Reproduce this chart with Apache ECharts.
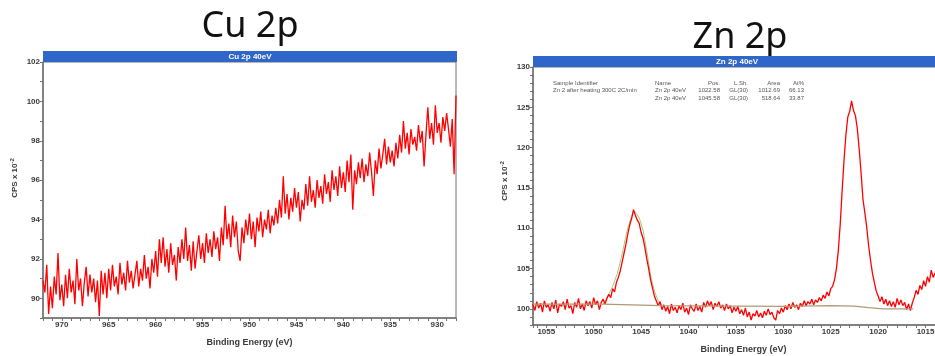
<!DOCTYPE html>
<html>
<head>
<meta charset="utf-8">
<script src="https://cdn.jsdelivr.net/npm/echarts@6/dist/echarts.min.js"></script>
<style>
  html, body { margin: 0; padding: 0; background: #fff; }
  #chart { width: 935px; height: 356px; }
</style>
</head>
<body>
<div id="chart"></div>
<script>
// Cu 2p scan: binding energy from 972 eV down to 928 eV, 0.2 eV per channel
const cuStart = 972.0;
const cuStep = 0.2;
const cuCounts = [
  90.9, 90.3, 91.7, 89.2, 90.6, 89.5, 91.1, 90.2, 92.3, 89.9,
  90.7, 89.6, 91.2, 90.0, 91.5, 90.3, 90.9, 89.7, 92.0, 90.4,
  91.0, 89.6, 90.8, 91.6, 90.1, 91.2, 90.3, 91.0, 89.8, 90.9,
  89.1, 91.4, 90.2, 91.3, 90.0, 91.5, 90.4, 91.7, 90.6, 91.1,
  90.2, 91.8, 90.7, 91.3, 90.4, 91.9, 90.8, 91.4, 90.5, 91.2,
  91.9, 90.6, 91.5, 90.9, 92.2, 91.0, 91.6, 90.5, 92.0, 91.3,
  92.4, 91.1, 93.0, 91.8, 93.1, 91.6, 92.5, 91.3, 92.8, 91.7,
  92.2, 90.9, 92.6, 91.8, 93.0, 92.0, 93.6, 91.9, 92.7, 91.4,
  92.9, 91.5, 92.4, 93.2, 92.0, 92.8, 91.8, 93.3, 92.3, 93.0,
  92.1, 93.4, 92.5, 93.1, 91.9, 93.6, 92.7, 94.7, 93.0, 93.8,
  92.6, 94.2, 93.1, 93.9, 92.4, 91.9, 93.6, 92.8, 94.0, 93.2,
  94.3, 93.0, 93.9, 92.6, 94.1, 93.4, 94.4, 93.1, 94.0, 93.5,
  94.5, 93.3, 94.2, 93.7, 94.6, 93.8, 95.0, 94.1, 96.2, 94.3,
  95.3, 94.0, 95.1, 94.4, 95.6, 94.6, 95.4, 93.9, 95.0, 94.5,
  95.8, 94.7, 96.2, 94.9, 95.5, 94.6, 96.0, 95.1, 95.7, 94.8,
  96.3, 95.3, 95.9, 94.9, 96.5, 95.5, 96.2, 95.2, 96.7, 95.6,
  96.4, 95.4, 97.0, 95.9, 97.3, 94.5, 96.5, 95.8, 96.9, 96.1,
  97.1, 95.9, 96.8, 96.2, 97.4, 96.4, 95.2, 97.0, 96.3, 97.6,
  96.6, 97.3, 98.1, 96.8, 97.7, 96.9, 97.5, 96.7, 97.9, 97.1,
  98.3, 97.4, 99.0, 97.6, 98.4, 97.3, 98.6, 97.8, 98.2, 97.5,
  98.8, 97.9, 98.5, 96.7, 98.3, 99.7, 98.1, 98.9, 97.8, 99.8,
  98.4, 98.9, 97.9, 99.2, 98.5, 99.4, 98.6, 97.7, 99.1, 96.3,
  100.3
];

// Zn 2p scan: 1056.4 eV down to 1012 eV, 0.2 eV per channel
const znStart = 1056.4;
const znStep = 0.2;
const znCounts = [
  100.6, 99.8, 100.9, 100.1, 100.7, 99.6, 101.0, 100.2, 100.5, 99.7,
  100.8, 100.0, 101.1, 99.5, 100.6, 100.3, 100.9, 99.9, 101.2, 100.1,
  100.4, 99.4, 100.8, 100.2, 101.3, 100.0, 100.6, 99.8, 101.0, 100.4,
  100.9, 100.1, 101.4, 100.5, 101.0, 99.9, 100.8, 101.2, 100.6, 101.3,
  101.8, 101.4, 102.5, 102.1, 103.3, 103.9, 104.7, 105.8, 106.9, 108.0,
  109.3, 110.4, 111.2, 112.3, 111.6, 111.0, 110.6, 109.5, 108.8, 107.6,
  106.2, 105.0, 103.6, 102.6, 101.6, 101.0, 100.4, 100.9, 99.9, 100.5,
  99.7, 100.3, 99.4, 100.6, 99.8, 100.2, 99.5, 100.4, 99.9, 100.7,
  99.6, 100.1, 99.3, 100.5, 100.0, 99.7, 100.6, 99.8, 100.3, 99.6,
  100.8, 100.2, 101.0, 100.4, 100.9, 99.9, 100.7, 100.3, 100.9, 100.1,
  100.5, 99.8, 100.6, 100.0, 100.4, 99.5, 100.2, 99.7, 100.3, 99.4,
  99.9, 99.2, 100.1, 99.0, 99.6, 98.6, 99.4, 99.1, 99.8, 99.0,
  99.5, 98.9, 99.7, 99.2, 100.0, 99.3, 99.6, 98.9, 98.6, 99.8,
  99.4, 100.1, 99.6, 100.4, 99.9, 100.6, 100.0, 100.8, 100.2, 100.5,
  99.9, 100.7, 100.3, 101.0, 100.4, 100.9, 100.6, 101.2, 100.5, 101.1,
  100.8, 101.4, 101.0, 101.7, 101.3, 102.1, 101.6, 102.5, 102.8, 103.6,
  105.0, 107.2, 110.5, 114.6, 118.4, 121.6, 123.8, 124.5, 125.8, 124.6,
  124.0, 122.4, 119.8, 116.9, 113.6, 111.9, 110.1, 107.8, 106.0, 104.4,
  103.3, 102.2, 101.6, 100.9, 101.5, 100.6, 101.2, 100.4, 101.0, 100.3,
  100.9, 100.2, 101.3, 100.5, 101.1, 100.4, 100.8, 99.9, 100.6, 99.8,
  100.7, 101.4, 102.3, 101.8, 102.9, 102.4, 103.5, 102.8, 104.0, 103.3,
  104.8, 103.9, 104.4, 104.9, 104.2, 105.1, 104.6, 105.3, 104.8, 105.5,
  105.0, 105.6, 105.2
];

// Shirley background under the Zn peaks
const znBgEnergy = [1056.4, 1049.0, 1046.0, 1043.0, 1035.0, 1030.0, 1025.0, 1022.5, 1021.0, 1019.5, 1016.3];
const znBgCounts = [100.6, 100.6, 100.5, 100.4, 100.35, 100.3, 100.4, 100.35, 100.15, 100.0, 100.0];

// fitted envelope of the 2p1/2 component
const znFitEnergy = [1049.0, 1048.5, 1048.0, 1047.5, 1047.0, 1046.5, 1046.0, 1045.6, 1045.2, 1044.8, 1044.4, 1044.0, 1043.6, 1043.2, 1042.8];
const znFitCounts = [100.6, 101.6, 102.8, 104.4, 106.8, 109.6, 111.6, 112.0, 111.3, 109.8, 107.2, 104.2, 102.2, 101.0, 100.5];

// quantification table printed in the Zn panel
const tableCols = ['Name', 'Pos.', 'L.Sh.', 'Area', 'At%'];
const tableRows = [
  ['Zn 2p 40eV', '1022.58', 'GL(30)', '1012.69', '66.13'],
  ['Zn 2p 40eV', '1045.58', 'GL(30)', '518.64', '33.87']
];
const sampleId = 'Zn 2 after heating 300C 2C/min';

function toPairs(start, step, counts) {
  return counts.map((c, i) => [+(start - i * step).toFixed(2), c]);
}

const labelFont = { fontSize: 8, fontWeight: 'bold', color: '#3a3a3a', fontFamily: 'Liberation Sans', margin: 3 };
const axisGray = '#707070';

function everyN(n) {
  return function (v) {
    const r = Math.round(v);
    return (Math.abs(v - r) < 1e-6 && r % n === 0) ? String(r) : '';
  };
}

function xAxisOf(idx, min, max) {
  return {
    type: 'value', gridIndex: idx, inverse: true, min: min, max: max, interval: 1,
    name: 'Binding Energy (eV)', nameLocation: 'middle', nameGap: 20,
    nameTextStyle: { fontSize: 9, fontWeight: 'bold', color: '#3a3a3a', fontFamily: 'Liberation Sans' },
    axisLine: { lineStyle: { color: axisGray, width: 1.5 } },
    axisTick: { length: 3, lineStyle: { color: axisGray } },
    axisLabel: Object.assign({ formatter: everyN(5), showMinLabel: true, showMaxLabel: true }, labelFont),
    splitLine: { show: false }
  };
}

function yAxisOf(idx, min, max, step) {
  return {
    type: 'value', gridIndex: idx, min: min, max: max, interval: 1,
    axisLine: { show: true, lineStyle: { color: axisGray, width: 1.5 } },
    axisTick: { show: true, length: 3, lineStyle: { color: axisGray } },
    axisLabel: Object.assign({ formatter: everyN(step) }, labelFont),
    splitLine: { show: false }
  };
}

const blue = '#2f66c9';
const supRich = { s: { fontSize: 6, fontWeight: 'bold', padding: [0, 0, 6, 0] } };
const graphics = [
  { type: 'text', x: 250, y: 27, style: { text: 'Cu 2p', font: '36px "Noto Sans"', fill: '#111', align: 'center', verticalAlign: 'middle' } },
  { type: 'text', x: 740, y: 38, style: { text: 'Zn 2p', font: '36px "Noto Sans"', fill: '#111', align: 'center', verticalAlign: 'middle' } },
  { type: 'rect', shape: { x: 43, y: 51, width: 414, height: 11 }, style: { fill: blue } },
  { type: 'text', x: 250, y: 56.5, style: { text: 'Cu 2p 40eV', font: 'bold 8px "Liberation Sans"', fill: '#fff', align: 'center', verticalAlign: 'middle' } },
  { type: 'rect', shape: { x: 533, y: 56, width: 420, height: 11 }, style: { fill: blue } },
  { type: 'text', x: 737, y: 61.5, style: { text: 'Zn 2p 40eV', font: 'bold 8px "Liberation Sans"', fill: '#fff', align: 'center', verticalAlign: 'middle' } },
  { type: 'text', x: 15, y: 178, rotation: Math.PI / 2, style: { text: 'CPS x 10{s|-2}', font: 'bold 8px "Liberation Sans"', fill: '#3a3a3a', align: 'center', verticalAlign: 'middle', rich: supRich } },
  { type: 'text', x: 505, y: 181, rotation: Math.PI / 2, style: { text: 'CPS x 10{s|-2}', font: 'bold 8px "Liberation Sans"', fill: '#3a3a3a', align: 'center', verticalAlign: 'middle', rich: supRich } },
  { type: 'text', x: 553, y: 87, style: { text: 'Sample Identifier\n' + sampleId, font: '6px "Liberation Sans"', lineHeight: 7.5, fill: '#555', align: 'left', verticalAlign: 'middle' } }
];
const colX = [655, 720, 748, 780, 804];
tableCols.forEach((c, j) => {
  const lines = [c].concat(tableRows.map(r => r[j])).join('\n');
  graphics.push({ type: 'text', x: colX[j], y: 90.5, style: { text: lines, font: '6px "Liberation Sans"', lineHeight: 7.5, fill: '#555', align: j === 0 ? 'left' : 'right', verticalAlign: 'middle' } });
});

const chart = echarts.init(document.getElementById('chart'));
chart.setOption({
  animation: false,
  backgroundColor: '#fff',
  grid: [
    { left: 43, top: 62, width: 413, height: 256, show: true, borderColor: axisGray, borderWidth: 1, outerBoundsMode: 'none', containLabel: false },
    { left: 533, top: 67, width: 421, height: 258, show: true, borderColor: axisGray, borderWidth: 1, outerBoundsMode: 'none', containLabel: false }
  ],
  xAxis: [xAxisOf(0, 928, 972), xAxisOf(1, 1012, 1056.4)],
  yAxis: [yAxisOf(0, 89, 102, 2), yAxisOf(1, 98, 130, 5)],
  graphic: graphics,
  series: [
    { type: 'line', xAxisIndex: 0, yAxisIndex: 0, data: toPairs(cuStart, cuStep, cuCounts), showSymbol: false, lineStyle: { color: '#ff0000', width: 1.3 } },
    { type: 'line', xAxisIndex: 1, yAxisIndex: 1, data: znFitEnergy.map((e, i) => [e, znFitCounts[i]]), showSymbol: false, lineStyle: { color: '#9ad17f', width: 1 } },
    { type: 'line', xAxisIndex: 1, yAxisIndex: 1, data: toPairs(znStart, znStep, znCounts), showSymbol: false, lineStyle: { color: '#ff0000', width: 1.3 } },
    { type: 'line', xAxisIndex: 1, yAxisIndex: 1, data: znBgEnergy.map((e, i) => [e, znBgCounts[i]]), showSymbol: false, lineStyle: { color: '#b09a78', width: 1.2 } }
  ]
});
</script>
</body>
</html>
